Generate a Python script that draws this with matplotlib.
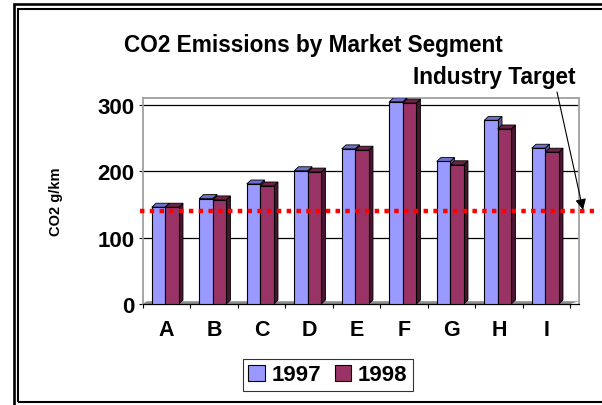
import matplotlib
matplotlib.use("Agg")
import matplotlib.pyplot as plt
from matplotlib.patches import Polygon, Rectangle, Patch
import numpy as np

plt.rcParams['font.family'] = ['Liberation Sans', 'DejaVu Sans']
plt.rcParams['font.weight'] = 'bold'

## data ##
segments = ['A', 'B', 'C', 'D', 'E', 'F', 'G', 'H', 'I']
co2_1997 = [146, 159, 181, 201, 234, 305, 215, 277, 235]
co2_1998 = [146, 157, 178, 199, 232, 303, 210, 264, 229]
target = 141
years = ['1997', '1998']
yticks = [0, 100, 200, 300]

## styles ##
face_cols = ['#9999FF', '#993366']
top_cols = ['#6F6FCC', '#6E2249']
side_cols = ['#5A5A99', '#4A1530']
bw = 0.284      # bar width in category units
dx = 0.09       # fake depth, x
dy = 6.0        # fake depth, y


W, H = 602, 406
fig = plt.figure(figsize=(W / 100, H / 100), dpi=100)

def px(x0, y0, x1, y1):
    # figure rect from image pixel coords (top-left origin)
    return [x0 / W, 1 - y1 / H, (x1 - x0) / W, (y1 - y0) / H]

ax = fig.add_axes(px(142.7, 99, 579, 305))
ax.set_xlim(0.5, 0.5 + (579 - 142.7) / 47.5)
ax.set_ylim(0, 310.7)

# gridlines
for t in yticks[1:]:
    ax.axhline(t, color='black', lw=0.9, zorder=1)

# floor
ax.add_patch(Polygon([(0.5, 0), (9.5, 0), (9.5 + dx * 2, dy * 0.7), (0.5 + dx, dy * 0.7)],
                     closed=True, facecolor='#8C8C8C', edgecolor='none', zorder=1.5))

def bar3d(x, h, k):
    front = Rectangle((x, 0), bw, h, facecolor=face_cols[k], edgecolor='black', lw=0.8, zorder=3 + k)
    top = Polygon([(x, h), (x + bw, h), (x + bw + dx, h + dy), (x + dx, h + dy)],
                  closed=True, facecolor=top_cols[k], edgecolor='black', lw=0.6, zorder=3 + k)
    side = Polygon([(x + bw, 0), (x + bw + dx, dy), (x + bw + dx, h + dy), (x + bw, h)],
                   closed=True, facecolor=side_cols[k], edgecolor='black', lw=0.6, zorder=3 + k)
    for p in (side, top, front):
        ax.add_patch(p)

pos = np.arange(1, len(segments) + 1)
for i, p in enumerate(pos):
    bar3d(p - 0.31, co2_1997[i], 0)
    bar3d(p - 0.31 + bw, co2_1998[i], 1)

# target line
ax.plot([0.45, 10.0], [target, target], color='red', lw=3.2, ls=(0, (1.0, 1.2)),
        dash_capstyle='butt', clip_on=False, zorder=10)

# spines
for s in ['top', 'right', 'left']:
    ax.spines[s].set_color('#A0A0A0')
    ax.spines[s].set_linewidth(1.3)
ax.spines['bottom'].set_color('black')
ax.spines['bottom'].set_linewidth(0.9)

ax.set_yticks(yticks)
ax.set_yticklabels([str(t) for t in yticks], fontsize=16, fontweight='bold')
ax.tick_params(axis='y', length=3, width=0.8, color='black', pad=3)
ax.set_xticks(pos)
ax.set_xticklabels(segments, fontsize=15.5, fontweight='bold')
ax.set_xticks(np.arange(0.5, len(segments) + 1, 1.0), minor=True)
ax.tick_params(axis='x', which='major', length=0, pad=11)
ax.tick_params(axis='x', which='minor', length=3, width=0.8, color='black')

ax.set_ylabel('CO2 g/km', fontsize=10.5, fontweight='bold', labelpad=25)

fig.text(313.5 / W, 1 - 51.7 / H, 'CO2 Emissions by Market Segment', ha='center', va='baseline',
         fontsize=16.3, fontweight='bold')
fig.text(494 / W, 1 - 84 / H, 'Industry Target', ha='center', va='baseline',
         fontsize=16.3, fontweight='bold')
ax.annotate('', xy=(9.77, target + 1), xycoords='data',
            xytext=(557, H - 93), textcoords='figure pixels',
            arrowprops=dict(arrowstyle='-|>', color='black', lw=0.8, mutation_scale=16,
                            shrinkA=0, shrinkB=0),
            annotation_clip=False, zorder=11)

handles = [Patch(facecolor=face_cols[k], edgecolor='black', lw=0.8) for k in range(2)]
leg = fig.legend(handles, years, loc='center', bbox_to_anchor=(328 / W, 1 - 376 / H), ncol=2,
                 frameon=True, fancybox=False, edgecolor='black',
                 handlelength=0.75, handleheight=0.75, handletextpad=0.3, columnspacing=0.6,
                 borderpad=0.25, prop={'weight': 'bold', 'size': 16})
leg.get_frame().set_linewidth(0.8)

# double border frame
fig.patches.append(Rectangle((14 / W, 1 - 410 / H), (640 - 14) / W, (410 - 5.3) / H,
                             transform=fig.transFigure, fill=False, edgecolor='black', lw=1.9))
fig.patches.append(Rectangle((18.3 / W, 1 - 402.5 / H), (630 - 18.3) / W, (402.5 - 10) / H,
                             transform=fig.transFigure, fill=False, edgecolor='black', lw=1.5))

fig.savefig('out.png', dpi=100)
